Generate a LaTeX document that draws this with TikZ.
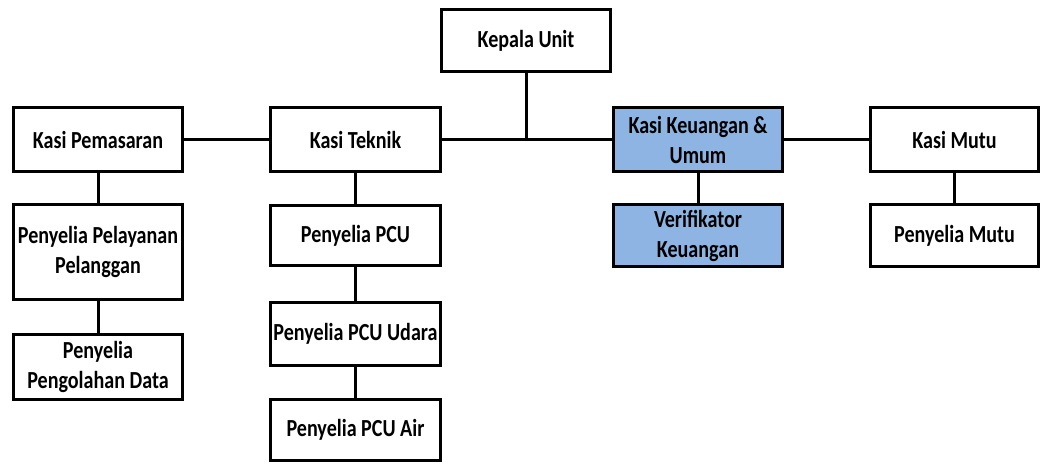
\documentclass[tikz,border=0pt]{standalone}
\usepackage{fontspec}
\setmainfont{Carlito}[FakeStretch=0.82]
\usepackage{xcolor}
\usepackage{tikz}
\usetikzlibrary{positioning}
\definecolor{kasiblue}{RGB}{141,180,226}

\begin{document}
\begin{tikzpicture}[x=1pt, y=-1pt,
  unit/.style={draw, line width=3pt, fill=white, align=center, inner sep=0pt,
    font=\bfseries\fontsize{24.5}{30}\selectfont},
  unitblue/.style={unit, fill=kasiblue},
  link/.style={line width=3pt}]
\useasboundingbox (0,0) rectangle (1040,463);

% Top
\node[unit, minimum width=169, minimum height=62] (kepala) at (526,40.5) {Kepala Unit};

% Kasi row
\node[unit, minimum width=169, minimum height=64] (pemasaran) at (98,139.5) {Kasi Pemasaran};
\node[unit, minimum width=170, minimum height=64] (teknik) at (355.5,139.5) {Kasi Teknik};
\node[unitblue, minimum width=169, minimum height=64] (keuangan) at (698,139.5) {Kasi Keuangan \&\\Umum};
\node[unit, minimum width=168, minimum height=64] (mutu) at (954.5,139.5) {Kasi Mutu};

% Penyelia
\node[unit, minimum width=169, minimum height=95] (pelayanan) at (98,252) {Penyelia Pelayanan\\Pelanggan};
\node[unit, minimum width=169, minimum height=65] (pengolahan) at (98,367) {Penyelia\\Pengolahan Data};
\node[unit, minimum width=170, minimum height=60] (pcu) at (355.5,235.5) {Penyelia PCU};
\node[unit, minimum width=170, minimum height=63] (pcuudara) at (355.5,334) {Penyelia PCU Udara};
\node[unit, minimum width=170, minimum height=61] (pcuair) at (355.5,430) {Penyelia PCU Air};
\node[unitblue, minimum width=169, minimum height=62] (verifikator) at (698,235.5) {Verifikator\\Keuangan};
\node[unit, minimum width=168, minimum height=62] (penyeliamutu) at (954.5,235.5) {Penyelia Mutu};

% Lines
\coordinate (junction) at (kepala.south |- teknik.east);
\draw[link] (kepala.south) -- (junction);
\draw[link] (pemasaran.east) -- (teknik.west);
\draw[link] (teknik.east) -- (keuangan.west);
\draw[link] (keuangan.east) -- (mutu.west);
\draw[link] (pemasaran.south) -- (pelayanan.north);
\draw[link] (pelayanan.south) -- (pengolahan.north);
\draw[link] (teknik.south) -- (pcu.north);
\draw[link] (pcu.south) -- (pcuudara.north);
\draw[link] (pcuudara.south) -- (pcuair.north);
\draw[link] (keuangan.south) -- (verifikator.north);
\draw[link] (mutu.south) -- (penyeliamutu.north);
\end{tikzpicture}
\end{document}
